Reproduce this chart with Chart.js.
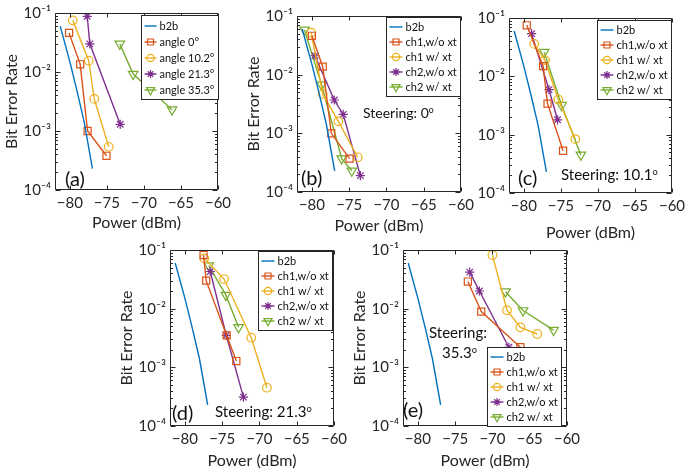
<!DOCTYPE html>
<html><head><meta charset="utf-8">
<script src="https://cdn.jsdelivr.net/npm/chart.js@4.4.1/dist/chart.umd.min.js"></script>
<style>
html,body{margin:0;padding:0;background:#fff;}
body{width:685px;height:473px;position:relative;overflow:hidden;font-family:Lato,"Open Sans",sans-serif;}
canvas{position:absolute;}
.note{position:absolute;color:#111;white-space:nowrap;line-height:1;font-family:Lato,"Open Sans",sans-serif;}
.note sup{font-size:0.62em;vertical-align:0.55em;}
</style></head><body>
<script>
// ---------------- DATA ----------------
const xTicks = [-80, -75, -70, -65, -60];
const yTicks = [1e-4, 1e-3, 1e-2, 1e-1];
const legendAngle = ['b2b', 'angle 0°', 'angle 10.2°', 'angle 21.3°', 'angle 35.3°'];
const legendCh = ['b2b', 'ch1,w/o xt', 'ch1 w/ xt', 'ch2,w/o xt', 'ch2 w/ xt'];

const b2bPower = [-81.3, -80.0, -79.0, -78.05, -76.95];
const b2bBER   = [0.06, 0.015, 0.0046, 0.0014, 0.00023];

// (a)
const aPow0  = [-80.1, -78.6, -77.6, -75.05];  const aBer0  = [0.046, 0.0135, 0.001, 0.00038];
const aPow10 = [-79.6, -77.45, -76.7, -74.75]; const aBer10 = [0.075, 0.0155, 0.0035, 0.00054];
const aPow21 = [-77.65, -77.3, -73.2];         const aBer21 = [0.088, 0.030, 0.0013];
const aPow35 = [-73.25, -71.45, -66.2];        const aBer35 = [0.030, 0.0092, 0.0023];
// (b) steering 0
const bPow1wo = [-80.0, -78.55, -77.4, -74.95]; const bBer1wo = [0.046, 0.0137, 0.001, 0.00037];
const bPow1w  = [-80.1, -78.55, -76.45, -73.85];const bBer1w  = [0.052, 0.0047, 0.0016, 0.00039];
const bPow2wo = [-79.6, -77.0, -75.8, -73.5];   const bBer2wo = [0.021, 0.0037, 0.0021, 0.00019];
const bPow2w  = [-81.0, -78.7, -76.0, -74.65];  const bBer2w  = [0.058, 0.0067, 0.00037, 0.00023];
// (c) steering 10.1
const cPow1wo = [-79.6, -77.4, -76.8, -74.7];   const cBer1wo = [0.075, 0.015, 0.0034, 0.00053];
const cPow1w  = [-78.6, -77.15, -75.35, -73.05];const cBer1w  = [0.036, 0.019, 0.004, 0.00084];
const cPow2wo = [-78.95, -76.6, -75.45];        const cBer2wo = [0.054, 0.0059, 0.0018];
const cPow2w  = [-77.25, -74.9, -72.3];         const cBer2w  = [0.026, 0.0032, 0.00045];
// (d) steering 21.3
const dPow1wo = [-77.5, -77.15, -74.4, -73.1];  const dBer1wo = [0.082, 0.030, 0.0035, 0.00128];
const dPow1w  = [-77.4, -74.75, -71.1, -69.0];  const dBer1w  = [0.072, 0.032, 0.0032, 0.00045];
const dPow2wo = [-76.6, -74.45, -72.15];        const dBer2wo = [0.043, 0.0035, 0.00031];
const dPow2w  = [-76.8, -74.5, -72.8];          const dBer2w  = [0.054, 0.017, 0.0048];
// (e) steering 35.3
const ePow1wo = [-73.3, -71.5, -66.25];         const eBer1wo = [0.029, 0.0089, 0.0022];
const ePow1w  = [-70.0, -68.05, -66.25, -64.0]; const eBer1w  = [0.082, 0.0094, 0.0048, 0.0037];
const ePow2wo = [-73.05, -71.75, -67.8];        const eBer2wo = [0.042, 0.020, 0.0022];
const ePow2w  = [-68.25, -65.9, -61.8];         const eBer2w  = [0.0195, 0.0093, 0.0043];

// ---------------- STYLE ----------------
const FONT = 'Lato, "Open Sans", sans-serif';
const AX = '#262626';
const C = {blue:'#0072BD', orange:'#D95319', yellow:'#EDB120', purple:'#7E2F8E', green:'#77AC30'};
const MK = {
  none:{style:'circle', r:0},
  rect:{style:'rect', r:5},
  circle:{style:'circle', r:4.3},
  star:{style:'star', r:4.6},
  tri:{style:'triangle', r:5.5, rot:180}
};
Chart.defaults.font.family = FONT;

const Y_W = 55, PAD_T = 12, PAD_R = 16;
const SUP = {'-':'⁻','0':'⁰','1':'¹','2':'²','3':'³','4':'⁴','5':'⁵'};

function drawMarker(ctx, style, x, y, r){
  ctx.beginPath();
  if (style==='rect'){ const s=r*Math.SQRT1_2; ctx.rect(x-s,y-s,2*s,2*s); }
  else if (style==='circle'){ ctx.arc(x,y,r,0,Math.PI*2); }
  else if (style==='star'){
    ctx.moveTo(x-r,y);ctx.lineTo(x+r,y);ctx.moveTo(x,y-r);ctx.lineTo(x,y+r);
    const d=r*Math.SQRT1_2;
    ctx.moveTo(x-d,y-d);ctx.lineTo(x+d,y+d);ctx.moveTo(x-d,y+d);ctx.lineTo(x+d,y-d);
  } else if (style==='triangle'){
    const s=r*Math.sin(Math.PI/3);
    ctx.moveTo(x,y+r);ctx.lineTo(x-s,y-r/2);ctx.lineTo(x+s,y-r/2);ctx.closePath();
  }
  ctx.stroke();
}

const framePlugin = {
  id:'frame',
  afterDatasetsDraw(chart){
    const ctx=chart.ctx, ca=chart.chartArea, xs=chart.scales.x, ys=chart.scales.y;
    ctx.save();
    ctx.strokeStyle=AX; ctx.lineWidth=1;
    const L=Math.round(ca.left)+0.5, R=Math.round(ca.right)-0.5, T=Math.round(ca.top)+0.5, B=Math.round(ca.bottom)-0.5;
    ctx.beginPath();
    ctx.rect(L,T,R-L,B-T);
    xTicks.forEach(v=>{ const px=Math.round(xs.getPixelForValue(v))+0.5;
      ctx.moveTo(px,B); ctx.lineTo(px,B-4); ctx.moveTo(px,T); ctx.lineTo(px,T+4); });
    for (let e=-4;e<=-1;e++){
      for (let m=1;m<=9;m++){
        const v=m*Math.pow(10,e); if (v>0.1000001) break;
        const len = m===1?5:2.5;
        const py=Math.round(ys.getPixelForValue(v))+0.5;
        ctx.moveTo(L,py);ctx.lineTo(L+len,py);ctx.moveTo(R,py);ctx.lineTo(R-len,py);
      }
    }
    ctx.stroke(); ctx.restore();
  }
};

const boxLegend = {
  id:'boxLegend',
  afterDatasetsDraw(chart, args, o){
    if (!o || !o.show) return;
    const ctx=chart.ctx, ca=chart.chartArea, ds=chart.data.datasets;
    ctx.save();
    ctx.font = o.font+'px '+FONT;
    const tw = Math.max(...ds.map(d=>ctx.measureText(d.label).width));
    const w = Math.round(3 + o.lineLen + 3 + tw + 4);
    const h = Math.round(ds.length*o.rowH + 4);
    const x0 = Math.round(ca.right - o.mx - w) + 0.5;
    const y0 = (o.corner==='se' ? Math.round(ca.bottom - o.my - h) : Math.round(ca.top + o.my)) + 0.5;
    ctx.fillStyle='#fff'; ctx.fillRect(x0,y0,w,h);
    ctx.strokeStyle=AX; ctx.lineWidth=1; ctx.strokeRect(x0,y0,w,h);
    ds.forEach((d,i)=>{
      const cy = Math.round(y0 + 2 + o.rowH*(i+0.5));
      ctx.strokeStyle=d.borderColor; ctx.lineWidth=d.borderWidth;
      ctx.beginPath(); ctx.moveTo(x0+3,cy); ctx.lineTo(x0+3+o.lineLen,cy); ctx.stroke();
      if (d.pointRadius>0){ ctx.lineWidth=d.pointBorderWidth; drawMarker(ctx, d.pointStyle, x0+3+o.lineLen/2, cy, d.pointRadius*0.85); }
      ctx.fillStyle='#111'; ctx.textBaseline='middle'; ctx.textAlign='left';
      ctx.fillText(d.label, x0+3+o.lineLen+3, cy+0.5);
    });
    ctx.restore();
  }
};

function series(label, x, y, color, mk){
  const m = MK[mk];
  return {
    label, data: x.map((v,i)=>({x:v, y:y[i]})),
    borderColor: color, borderWidth: 1.4, tension: 0, fill: false,
    pointStyle: m.style, pointRadius: m.r, pointRotation: m.rot||0,
    pointBorderColor: color, pointBackgroundColor: 'rgba(255,255,255,0)', pointBorderWidth: 1.2,
    pointHoverRadius: m.r
  };
}

function makePanel(p){
  const cv=document.createElement('canvas');
  const W=(p.r-p.l)+Y_W+PAD_R, H=PAD_T+(p.b-p.t)+p.xh;
  cv.width=W; cv.height=H;
  cv.style.left=(p.l-Y_W)+'px'; cv.style.top=(p.t-PAD_T)+'px';
  cv.style.width=W+'px'; cv.style.height=H+'px';
  document.body.appendChild(cv);
  new Chart(cv, {
    type:'line',
    data:{datasets:p.datasets},
    options:{
      responsive:false, animation:false, devicePixelRatio:1,
      layout:{padding:{left:0, top:PAD_T, right:PAD_R, bottom:0}},
      plugins:{legend:{display:false}, tooltip:{enabled:false}, boxLegend:p.legend},
      scales:{
        x:{type:'linear', min:-82, max:-60,
          afterBuildTicks:s=>{ s.ticks = xTicks.map(v=>({value:v})); },
          afterFit:s=>{ s.height=p.xh; s.paddingLeft=0; s.paddingRight=0; },
          ticks:{callback:v=> v<0 ? '−'+Math.abs(v) : String(v), color:AX, font:{size:15}, padding:4, maxRotation:0, autoSkip:false},
          grid:{display:false, drawTicks:false}, border:{display:false},
          title:{display:true, text:'Power (dBm)', color:AX, font:{size:16}, padding:{top:0,bottom:4}}
        },
        y:{type:'logarithmic', min:1e-4, max:1e-1,
          afterBuildTicks:s=>{ s.ticks = yTicks.map(v=>({value:v, major:true})); },
          afterFit:s=>{ s.width=Y_W; s.paddingTop=0; s.paddingBottom=0; },
          ticks:{callback:v=>'10'+String(Math.round(Math.log10(v))).split('').map(c=>SUP[c]).join(''), color:AX, font:{size:15}, padding:4, autoSkip:false},
          grid:{display:false, drawTicks:false}, border:{display:false},
          title:{display:p.ytitle, text:'Bit Error Rate', color:AX, font:{size:16}, padding:{top:2,bottom:0}}
        }
      }
    },
    plugins:[framePlugin, boxLegend]
  });
}

function chSeries(p1wo,b1wo,p1w,b1w,p2wo,b2wo,p2w,b2w){
  return [
    series(legendCh[0], b2bPower, b2bBER, C.blue, 'none'),
    series(legendCh[1], p1wo, b1wo, C.orange, 'rect'),
    series(legendCh[2], p1w, b1w, C.yellow, 'circle'),
    series(legendCh[3], p2wo, b2wo, C.purple, 'star'),
    series(legendCh[4], p2w, b2w, C.green, 'tri')
  ];
}

makePanel({l:55, t:13, r:218, b:190, xh:46, ytitle:true,
  datasets:[
    series(legendAngle[0], b2bPower, b2bBER, C.blue, 'none'),
    series(legendAngle[1], aPow0, aBer0, C.orange, 'rect'),
    series(legendAngle[2], aPow10, aBer10, C.yellow, 'circle'),
    series(legendAngle[3], aPow21, aBer21, C.purple, 'star'),
    series(legendAngle[4], aPow35, aBer35, C.green, 'tri')
  ],
  legend:{show:true, corner:'ne', mx:0, my:2, font:11, rowH:16, lineLen:12}});
makePanel({l:297, t:16, r:461, b:192, xh:47, ytitle:true,
  datasets:chSeries(bPow1wo,bBer1wo,bPow1w,bBer1w,bPow2wo,bBer2wo,bPow2w,bBer2w),
  legend:{show:true, corner:'ne', mx:1, my:1, font:11, rowH:15, lineLen:13}});
makePanel({l:509, t:18, r:672, b:193, xh:53, ytitle:false,
  datasets:chSeries(cPow1wo,cBer1wo,cPow1w,cBer1w,cPow2wo,cBer2wo,cPow2w,cBer2w),
  legend:{show:true, corner:'ne', mx:1, my:2, font:11, rowH:15, lineLen:13}});
makePanel({l:170, t:250, r:334, b:426, xh:48, ytitle:true,
  datasets:chSeries(dPow1wo,dBer1wo,dPow1w,dBer1w,dPow2wo,dBer2wo,dPow2w,dBer2w),
  legend:{show:true, corner:'ne', mx:2, my:1, font:11, rowH:15, lineLen:13}});
makePanel({l:403, t:250, r:567, b:426, xh:48, ytitle:true,
  datasets:chSeries(ePow1wo,eBer1wo,ePow1w,eBer1w,ePow2wo,eBer2wo,ePow2w,eBer2w),
  legend:{show:true, corner:'se', mx:6, my:0, font:11, rowH:15, lineLen:13}});

const notes = [
  {html:'(a)', x:65, cy:178, size:20},
  {html:'(b)', x:301, cy:177, size:20},
  {html:'(c)', x:518, cy:177, size:20},
  {html:'(d)', x:172, cy:412, size:20},
  {html:'(e)', x:403, cy:409, size:20},
  {html:'Steering: 0<sup>o</sup>', x:363, cy:113, size:14},
  {html:'Steering: 10.1<sup>o</sup>', x:561, cy:174, size:15},
  {html:'Steering: 21.3<sup>o</sup>', x:215, cy:411, size:15},
  {html:'Steering:', x:429, cy:332, size:15},
  {html:'35.3<sup>o</sup>', x:442, cy:352, size:15}
];
notes.forEach(n=>{
  const d=document.createElement('div');
  d.className='note'; d.innerHTML=n.html;
  d.style.left=n.x+'px'; d.style.top=(n.cy-n.size/2)+'px'; d.style.fontSize=n.size+'px';
  document.body.appendChild(d);
});
</script>
</body></html>
